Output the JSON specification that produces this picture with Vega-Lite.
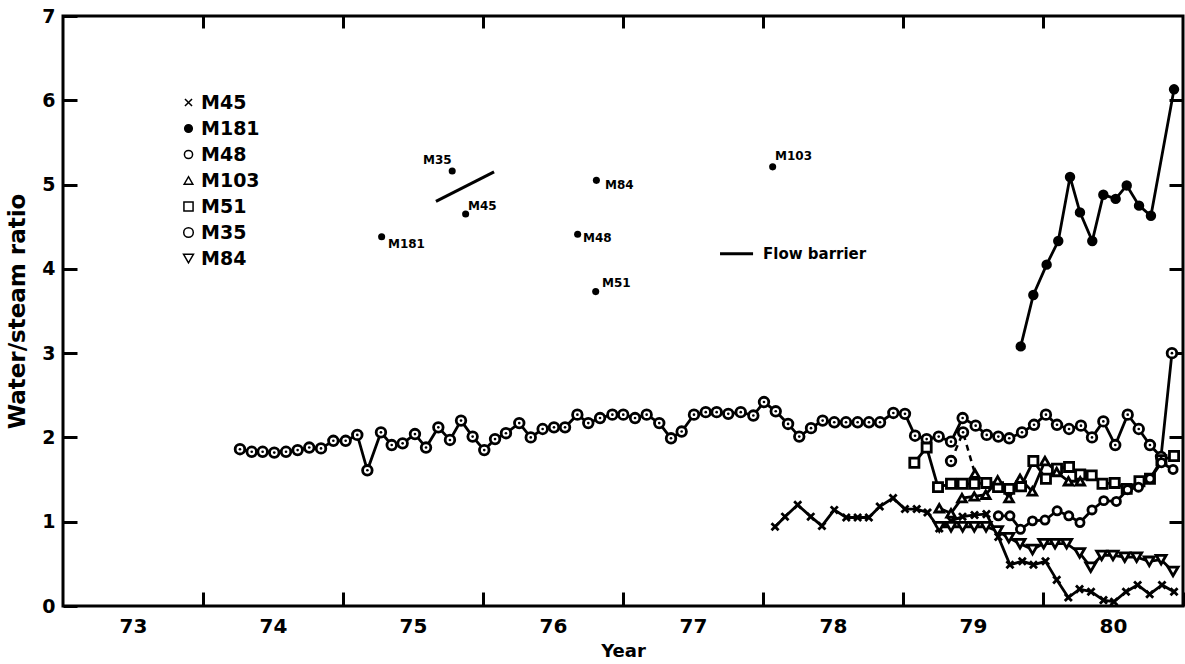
{
  "$schema": "https://vega.github.io/schema/vega-lite/v6.json",
  "width": 1120,
  "height": 590,
  "autosize": {"type": "none"},
  "padding": {"left": 63, "top": 16, "right": 2, "bottom": 58},
  "background": "white",
  "config": {
    "view": {"stroke": "black", "strokeWidth": 3},
    "axis": {
      "domain": false,
      "grid": false,
      "tickColor": "black",
      "tickWidth": 3,
      "tickSize": 14,
      "labelFont": "DejaVu Sans",
      "labelFontWeight": "bold",
      "labelColor": "black",
      "titleFont": "DejaVu Sans",
      "titleFontWeight": "bold",
      "titleColor": "black"
    },
    "text": {"font": "DejaVu Sans", "fontWeight": "bold", "color": "black"}
  },
  "datasets": {
    "wells": [
      {"well": "M35", "year": 74.264, "ratio": 1.86},
      {"well": "M35", "year": 74.348, "ratio": 1.83},
      {"well": "M35", "year": 74.426, "ratio": 1.83},
      {"well": "M35", "year": 74.509, "ratio": 1.82},
      {"well": "M35", "year": 74.593, "ratio": 1.83},
      {"well": "M35", "year": 74.676, "ratio": 1.85},
      {"well": "M35", "year": 74.759, "ratio": 1.88},
      {"well": "M35", "year": 74.843, "ratio": 1.87},
      {"well": "M35", "year": 74.931, "ratio": 1.96},
      {"well": "M35", "year": 75.019, "ratio": 1.96},
      {"well": "M35", "year": 75.102, "ratio": 2.03},
      {"well": "M35", "year": 75.174, "ratio": 1.61},
      {"well": "M35", "year": 75.271, "ratio": 2.06},
      {"well": "M35", "year": 75.348, "ratio": 1.91},
      {"well": "M35", "year": 75.426, "ratio": 1.93},
      {"well": "M35", "year": 75.514, "ratio": 2.04},
      {"well": "M35", "year": 75.593, "ratio": 1.88},
      {"well": "M35", "year": 75.681, "ratio": 2.12},
      {"well": "M35", "year": 75.764, "ratio": 1.97},
      {"well": "M35", "year": 75.843, "ratio": 2.2},
      {"well": "M35", "year": 75.926, "ratio": 2.01},
      {"well": "M35", "year": 76.009, "ratio": 1.85},
      {"well": "M35", "year": 76.086, "ratio": 1.98},
      {"well": "M35", "year": 76.164, "ratio": 2.05},
      {"well": "M35", "year": 76.259, "ratio": 2.17},
      {"well": "M35", "year": 76.341, "ratio": 2.0},
      {"well": "M35", "year": 76.426, "ratio": 2.1},
      {"well": "M35", "year": 76.507, "ratio": 2.12},
      {"well": "M35", "year": 76.586, "ratio": 2.12},
      {"well": "M35", "year": 76.674, "ratio": 2.27},
      {"well": "M35", "year": 76.752, "ratio": 2.17},
      {"well": "M35", "year": 76.836, "ratio": 2.23},
      {"well": "M35", "year": 76.924, "ratio": 2.27},
      {"well": "M35", "year": 77.002, "ratio": 2.27},
      {"well": "M35", "year": 77.086, "ratio": 2.23},
      {"well": "M35", "year": 77.169, "ratio": 2.27},
      {"well": "M35", "year": 77.259, "ratio": 2.17},
      {"well": "M35", "year": 77.343, "ratio": 1.99},
      {"well": "M35", "year": 77.419, "ratio": 2.07},
      {"well": "M35", "year": 77.507, "ratio": 2.27},
      {"well": "M35", "year": 77.591, "ratio": 2.3},
      {"well": "M35", "year": 77.669, "ratio": 2.3},
      {"well": "M35", "year": 77.752, "ratio": 2.28},
      {"well": "M35", "year": 77.841, "ratio": 2.3},
      {"well": "M35", "year": 77.931, "ratio": 2.26},
      {"well": "M35", "year": 78.007, "ratio": 2.42},
      {"well": "M35", "year": 78.091, "ratio": 2.31},
      {"well": "M35", "year": 78.179, "ratio": 2.16},
      {"well": "M35", "year": 78.259, "ratio": 2.01},
      {"well": "M35", "year": 78.343, "ratio": 2.11},
      {"well": "M35", "year": 78.426, "ratio": 2.2},
      {"well": "M35", "year": 78.509, "ratio": 2.18},
      {"well": "M35", "year": 78.593, "ratio": 2.18},
      {"well": "M35", "year": 78.676, "ratio": 2.18},
      {"well": "M35", "year": 78.757, "ratio": 2.18},
      {"well": "M35", "year": 78.836, "ratio": 2.18},
      {"well": "M35", "year": 78.931, "ratio": 2.29},
      {"well": "M35", "year": 79.014, "ratio": 2.28},
      {"well": "M35", "year": 79.086, "ratio": 2.02},
      {"well": "M35", "year": 79.169, "ratio": 1.98},
      {"well": "M35", "year": 79.255, "ratio": 2.01},
      {"well": "M35", "year": 79.343, "ratio": 1.95},
      {"well": "M35", "year": 79.426, "ratio": 2.23},
      {"well": "M35", "year": 79.519, "ratio": 2.14},
      {"well": "M35", "year": 79.598, "ratio": 2.03},
      {"well": "M35", "year": 79.681, "ratio": 2.01},
      {"well": "M35", "year": 79.759, "ratio": 1.99},
      {"well": "M35", "year": 79.85, "ratio": 2.06},
      {"well": "M35", "year": 79.936, "ratio": 2.15},
      {"well": "M35", "year": 80.021, "ratio": 2.27},
      {"well": "M35", "year": 80.1, "ratio": 2.15},
      {"well": "M35", "year": 80.186, "ratio": 2.1},
      {"well": "M35", "year": 80.271, "ratio": 2.14},
      {"well": "M35", "year": 80.35, "ratio": 2.0},
      {"well": "M35", "year": 80.431, "ratio": 2.19},
      {"well": "M35", "year": 80.516, "ratio": 1.91},
      {"well": "M35", "year": 80.605, "ratio": 2.27},
      {"well": "M35", "year": 80.684, "ratio": 2.1},
      {"well": "M35", "year": 80.764, "ratio": 1.91},
      {"well": "M35", "year": 80.843, "ratio": 1.77},
      {"well": "M35", "year": 80.921, "ratio": 3.0},

      {"well": "M35", "line": "dash", "year": 79.343, "ratio": 1.72},
      {"well": "M35", "line": "dash", "year": 79.429, "ratio": 2.06},
      {"well": "M103", "line": "dash", "year": 79.514, "ratio": 1.57},

      {"well": "M181", "year": 79.841, "ratio": 3.08},
      {"well": "M181", "year": 79.931, "ratio": 3.69},
      {"well": "M181", "year": 80.026, "ratio": 4.05},
      {"well": "M181", "year": 80.109, "ratio": 4.33},
      {"well": "M181", "year": 80.193, "ratio": 5.09},
      {"well": "M181", "year": 80.264, "ratio": 4.67},
      {"well": "M181", "year": 80.352, "ratio": 4.33},
      {"well": "M181", "year": 80.431, "ratio": 4.88},
      {"well": "M181", "year": 80.519, "ratio": 4.83},
      {"well": "M181", "year": 80.598, "ratio": 4.99},
      {"well": "M181", "year": 80.686, "ratio": 4.75},
      {"well": "M181", "year": 80.771, "ratio": 4.63},
      {"well": "M181", "year": 80.936, "ratio": 6.13},

      {"well": "M45", "year": 78.086, "ratio": 0.94},
      {"well": "M45", "year": 78.157, "ratio": 1.06},
      {"well": "M45", "year": 78.248, "ratio": 1.2},
      {"well": "M45", "year": 78.341, "ratio": 1.06},
      {"well": "M45", "year": 78.421, "ratio": 0.95},
      {"well": "M45", "year": 78.509, "ratio": 1.14},
      {"well": "M45", "year": 78.595, "ratio": 1.05},
      {"well": "M45", "year": 78.676, "ratio": 1.05},
      {"well": "M45", "year": 78.756, "ratio": 1.05},
      {"well": "M45", "year": 78.834, "ratio": 1.18},
      {"well": "M45", "year": 78.929, "ratio": 1.28},
      {"well": "M45", "year": 79.014, "ratio": 1.15},
      {"well": "M45", "year": 79.098, "ratio": 1.15},
      {"well": "M45", "year": 79.175, "ratio": 1.11},
      {"well": "M45", "year": 79.259, "ratio": 0.92},
      {"well": "M45", "year": 79.343, "ratio": 1.01},
      {"well": "M45", "year": 79.425, "ratio": 1.06},
      {"well": "M45", "year": 79.511, "ratio": 1.08},
      {"well": "M45", "year": 79.596, "ratio": 1.09},
      {"well": "M45", "year": 79.681, "ratio": 0.82},
      {"well": "M45", "year": 79.764, "ratio": 0.49},
      {"well": "M45", "year": 79.852, "ratio": 0.53},
      {"well": "M45", "year": 79.932, "ratio": 0.49},
      {"well": "M45", "year": 80.018, "ratio": 0.53},
      {"well": "M45", "year": 80.098, "ratio": 0.31},
      {"well": "M45", "year": 80.181, "ratio": 0.1},
      {"well": "M45", "year": 80.261, "ratio": 0.2},
      {"well": "M45", "year": 80.343, "ratio": 0.17},
      {"well": "M45", "year": 80.432, "ratio": 0.07},
      {"well": "M45", "year": 80.507, "ratio": 0.05},
      {"well": "M45", "year": 80.593, "ratio": 0.17},
      {"well": "M45", "year": 80.676, "ratio": 0.25},
      {"well": "M45", "year": 80.762, "ratio": 0.14},
      {"well": "M45", "year": 80.85, "ratio": 0.25},
      {"well": "M45", "year": 80.936, "ratio": 0.17},

      {"well": "M51", "year": 79.081, "ratio": 1.7},
      {"well": "M51", "year": 79.169, "ratio": 1.88},
      {"well": "M51", "year": 79.25, "ratio": 1.41},
      {"well": "M51", "year": 79.343, "ratio": 1.45},
      {"well": "M51", "year": 79.426, "ratio": 1.45},
      {"well": "M51", "year": 79.509, "ratio": 1.45},
      {"well": "M51", "year": 79.595, "ratio": 1.46},
      {"well": "M51", "year": 79.679, "ratio": 1.41},
      {"well": "M51", "year": 79.759, "ratio": 1.39},
      {"well": "M51", "year": 79.843, "ratio": 1.42},
      {"well": "M51", "year": 79.931, "ratio": 1.72},
      {"well": "M51", "year": 80.021, "ratio": 1.51},
      {"well": "M51", "year": 80.1, "ratio": 1.63},
      {"well": "M51", "year": 80.186, "ratio": 1.65},
      {"well": "M51", "year": 80.266, "ratio": 1.56},
      {"well": "M51", "year": 80.348, "ratio": 1.55},
      {"well": "M51", "year": 80.425, "ratio": 1.45},
      {"well": "M51", "year": 80.512, "ratio": 1.46},
      {"well": "M51", "year": 80.598, "ratio": 1.39},
      {"well": "M51", "year": 80.689, "ratio": 1.48},
      {"well": "M51", "year": 80.764, "ratio": 1.51},
      {"well": "M51", "year": 80.846, "ratio": 1.73},
      {"well": "M51", "year": 80.936, "ratio": 1.78},

      {"well": "M103", "year": 79.259, "ratio": 1.16},
      {"well": "M103", "year": 79.343, "ratio": 1.1},
      {"well": "M103", "year": 79.421, "ratio": 1.28},
      {"well": "M103", "year": 79.509, "ratio": 1.3},
      {"well": "M103", "year": 79.591, "ratio": 1.32},
      {"well": "M103", "year": 79.676, "ratio": 1.49},
      {"well": "M103", "year": 79.757, "ratio": 1.28},
      {"well": "M103", "year": 79.836, "ratio": 1.51},
      {"well": "M103", "year": 79.924, "ratio": 1.36},
      {"well": "M103", "year": 80.014, "ratio": 1.72},
      {"well": "M103", "year": 80.098, "ratio": 1.59},
      {"well": "M103", "year": 80.182, "ratio": 1.48},
      {"well": "M103", "year": 80.266, "ratio": 1.48},

      {"well": "M48", "year": 79.681, "ratio": 1.07},
      {"well": "M48", "year": 79.764, "ratio": 1.07},
      {"well": "M48", "year": 79.839, "ratio": 0.91},
      {"well": "M48", "year": 79.925, "ratio": 1.01},
      {"well": "M48", "year": 80.014, "ratio": 1.02},
      {"well": "M48", "year": 80.101, "ratio": 1.13},
      {"well": "M48", "year": 80.184, "ratio": 1.07},
      {"well": "M48", "year": 80.264, "ratio": 0.99},
      {"well": "M48", "year": 80.35, "ratio": 1.14},
      {"well": "M48", "year": 80.434, "ratio": 1.25},
      {"well": "M48", "year": 80.524, "ratio": 1.24},
      {"well": "M48", "year": 80.604, "ratio": 1.38},
      {"well": "M48", "year": 80.682, "ratio": 1.41},
      {"well": "M48", "year": 80.764, "ratio": 1.51},
      {"well": "M48", "year": 80.846, "ratio": 1.7},
      {"well": "M48", "year": 80.929, "ratio": 1.62},

      {"well": "M84", "year": 79.259, "ratio": 0.94},
      {"well": "M84", "year": 79.343, "ratio": 0.94},
      {"well": "M84", "year": 79.426, "ratio": 0.94},
      {"well": "M84", "year": 79.509, "ratio": 0.94},
      {"well": "M84", "year": 79.593, "ratio": 0.94},
      {"well": "M84", "year": 79.675, "ratio": 0.89},
      {"well": "M84", "year": 79.756, "ratio": 0.81},
      {"well": "M84", "year": 79.836, "ratio": 0.74},
      {"well": "M84", "year": 79.925, "ratio": 0.67},
      {"well": "M84", "year": 80.005, "ratio": 0.74},
      {"well": "M84", "year": 80.086, "ratio": 0.74},
      {"well": "M84", "year": 80.169, "ratio": 0.74},
      {"well": "M84", "year": 80.262, "ratio": 0.63},
      {"well": "M84", "year": 80.341, "ratio": 0.46},
      {"well": "M84", "year": 80.419, "ratio": 0.6},
      {"well": "M84", "year": 80.5, "ratio": 0.6},
      {"well": "M84", "year": 80.584, "ratio": 0.58},
      {"well": "M84", "year": 80.669, "ratio": 0.58},
      {"well": "M84", "year": 80.759, "ratio": 0.53},
      {"well": "M84", "year": 80.844, "ratio": 0.55},
      {"well": "M84", "year": 80.929, "ratio": 0.41}
    ],
    "map": [
      {"well": "M35", "year": 75.78, "ratio": 5.16},
      {"well": "M45", "year": 75.876, "ratio": 4.65},
      {"well": "M181", "year": 75.276, "ratio": 4.38},
      {"well": "M84", "year": 76.81, "ratio": 5.05},
      {"well": "M48", "year": 76.676, "ratio": 4.41},
      {"well": "M51", "year": 76.805, "ratio": 3.73},
      {"well": "M103", "year": 78.069, "ratio": 5.21}
    ],
    "mapLabels": [
      {"label": "M35", "year": 75.571, "ratio": 5.29},
      {"label": "M45", "year": 75.893, "ratio": 4.745},
      {"label": "M181", "year": 75.321, "ratio": 4.29},
      {"label": "M84", "year": 76.871, "ratio": 4.99},
      {"label": "M48", "year": 76.714, "ratio": 4.365},
      {"label": "M51", "year": 76.85, "ratio": 3.83},
      {"label": "M103", "year": 78.086, "ratio": 5.34}
    ],
    "barrier": [
      {"seg": "barrier", "year": 75.664, "ratio": 4.8},
      {"seg": "barrier", "year": 76.079, "ratio": 5.15},
      {"seg": "key", "year": 77.693, "ratio": 4.18},
      {"seg": "key", "year": 77.929, "ratio": 4.18}
    ],
    "barrierLabel": [
      {"text": "Flow barrier", "year": 78.0, "ratio": 4.18}
    ]
  },
  "resolve": {"axis": {"x": "independent", "y": "independent"}},
  "layer": [
    {
      "data": {"name": "wells"},
      "transform": [{"filter": "datum.line != 'dash'"}],
      "mark": {"type": "line", "stroke": "black", "strokeWidth": 2.8},
      "encoding": {
        "x": {
          "field": "year", "type": "quantitative",
          "scale": {"domain": [73, 81], "nice": false, "zero": false},
          "axis": {
            "orient": "bottom",
            "offset": -14,
            "values": [74, 75, 76, 77, 78, 79, 80, 81],
            "labelExpr": "format(datum.value - 1, 'd')",
            "labelOffset": -70,
            "labelFlush": false,
            "labelOverlap": false,
            "labelBound": false,
            "labelFontSize": 20,
            "labelPadding": 10,
            "title": "Year",
            "titleFontSize": 18,
            "titlePadding": 6
          }
        },
        "y": {
          "field": "ratio", "type": "quantitative",
          "scale": {"domain": [0, 7], "nice": false, "zero": true},
          "axis": {
            "orient": "left",
            "offset": -14,
            "values": [0, 1, 2, 3, 4, 5, 6, 7],
            "labelFontSize": 19,
            "labelPadding": 8,
            "title": "Water/steam ratio",
            "titleFontSize": 23,
            "titlePadding": 12
          }
        },
        "detail": {"field": "well", "type": "nominal"}
      }
    },
    {
      "data": {"name": "wells"},
      "transform": [{"filter": "datum.line == 'dash'"}],
      "mark": {"type": "line", "stroke": "black", "strokeWidth": 2.5, "strokeDash": [6, 5]},
      "encoding": {
        "x": {"field": "year", "type": "quantitative", "axis": null},
        "y": {"field": "ratio", "type": "quantitative", "axis": null}
      }
    },
    {
      "data": {"name": "barrier"},
      "mark": {"type": "line", "stroke": "black", "strokeWidth": 3},
      "encoding": {
        "x": {"field": "year", "type": "quantitative", "axis": null},
        "y": {"field": "ratio", "type": "quantitative", "axis": null},
        "detail": {"field": "seg", "type": "nominal"}
      }
    },
    {
      "data": {"name": "wells"},
      "mark": {"type": "point", "stroke": "black", "strokeWidth": 2.8, "opacity": 1},
      "encoding": {
        "x": {"field": "year", "type": "quantitative", "axis": null},
        "y": {"field": "ratio", "type": "quantitative", "axis": null},
        "shape": {
          "field": "well", "type": "nominal",
          "scale": {
            "domain": ["M45", "M181", "M48", "M103", "M51", "M35", "M84"],
            "range": ["M-1,-1L1,1M-1,1L1,-1", "circle", "circle", "triangle-up", "square", "circle", "triangle-down"]
          },
          "legend": {
            "title": null, "orient": "none", "legendX": 116, "legendY": 77, "padding": 0,
            "labelFont": "DejaVu Sans", "labelFontWeight": "bold", "labelFontSize": 19, "labelColor": "black",
            "labelOffset": 3, "rowPadding": 6,
            "encode": {"symbols": {"update": {"stroke": {"value": "black"}, "strokeWidth": {"value": 2.5}, "size": {"value": 30}}}}
          }
        },
        "fill": {
          "field": "well", "type": "nominal",
          "scale": {
            "domain": ["M45", "M181", "M48", "M103", "M51", "M35", "M84"],
            "range": ["white", "black", "white", "white", "white", "white", "white"]
          },
          "legend": {
            "title": null, "orient": "none", "legendX": 116, "legendY": 77, "padding": 0,
            "labelFont": "DejaVu Sans", "labelFontWeight": "bold", "labelFontSize": 19, "labelColor": "black",
            "labelOffset": 3, "rowPadding": 6,
            "encode": {"symbols": {"update": {"stroke": {"value": "black"}, "strokeWidth": {"value": 2.5}, "size": {"value": 30}}}}
          }
        },
        "size": {
          "field": "well", "type": "ordinal",
          "scale": {
            "domain": ["M45", "M181", "M48", "M103", "M51", "M35", "M84"],
            "range": [50, 100, 45, 60, 45, 85, 60]
          },
          "legend": {
            "title": null, "orient": "none", "legendX": 116, "legendY": 77, "padding": 0,
            "labelFont": "DejaVu Sans", "labelFontWeight": "bold", "labelFontSize": 19, "labelColor": "black",
            "labelOffset": 3, "rowPadding": 6,
            "encode": {"symbols": {"update": {"stroke": {"value": "black"}, "strokeWidth": {"value": 2.5}, "size": {"value": 30}}}}
          }
        }
      }
    },
    {
      "data": {"name": "wells"},
      "transform": [{"filter": "datum.well == 'M35'"}],
      "mark": {"type": "point", "shape": "circle", "filled": true, "fill": "black", "size": 7, "opacity": 1},
      "encoding": {
        "x": {"field": "year", "type": "quantitative", "axis": null},
        "y": {"field": "ratio", "type": "quantitative", "axis": null}
      }
    },
    {
      "data": {"name": "map"},
      "mark": {"type": "point", "shape": "circle", "filled": true, "fill": "black", "size": 50, "opacity": 1},
      "encoding": {
        "x": {
          "field": "year", "type": "quantitative",
          "axis": {"orient": "top", "offset": -12, "tickSize": 12, "values": [74, 75, 76, 77, 78, 79, 80], "labels": false, "title": null}
        },
        "y": {
          "field": "ratio", "type": "quantitative",
          "axis": {"orient": "right", "offset": -14, "values": [1, 2, 3, 4, 5, 6], "labels": false, "title": null}
        }
      }
    },
    {
      "data": {"name": "mapLabels"},
      "mark": {"type": "text", "align": "left", "baseline": "middle", "fontSize": 12},
      "encoding": {
        "x": {"field": "year", "type": "quantitative", "axis": null},
        "y": {"field": "ratio", "type": "quantitative", "axis": null},
        "text": {"field": "label"}
      }
    },
    {
      "data": {"name": "barrierLabel"},
      "mark": {"type": "text", "align": "left", "baseline": "middle", "fontSize": 15},
      "encoding": {
        "x": {"field": "year", "type": "quantitative", "axis": null},
        "y": {"field": "ratio", "type": "quantitative", "axis": null},
        "text": {"field": "text"}
      }
    }
  ]
}
